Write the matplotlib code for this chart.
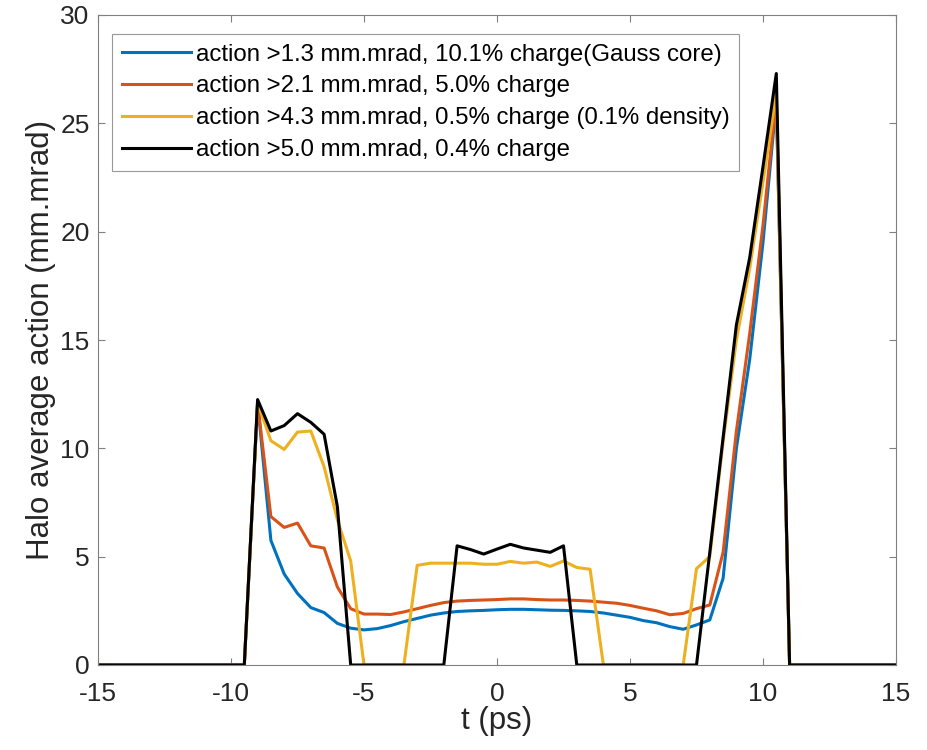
import matplotlib
matplotlib.use("Agg")
import matplotlib.pyplot as plt

plt.rcParams['font.family'] = ['Liberation Sans', 'DejaVu Sans']
plt.rcParams['axes.unicode_minus'] = False

labels = [
    "action >1.3 mm.mrad, 10.1% charge(Gauss core)",
    "action >2.1 mm.mrad, 5.0% charge",
    "action >4.3 mm.mrad, 0.5% charge (0.1% density)",
    "action >5.0 mm.mrad, 0.4% charge",
]
colors = ["#0072BD", "#D95319", "#EDB120", "#000000"]

# blue & red: sampled every 0.5 ps from -9 to 10.5, zero outside
t_blue = [-15, -9.5, -9, -8.5, -8, -7.5, -7, -6.5, -6, -5.5, -5, -4.5, -4, -3.5, -3, -2.5,
          -2, -1.5, -1, -0.5, 0, 0.5, 1, 1.5, 2, 2.5, 3, 3.5, 4, 4.5, 5, 5.5, 6, 6.5, 7,
          7.5, 8, 8.5, 9, 9.5, 10, 10.5, 11, 15]
v_blue = [0, 0, 12.1, 5.75, 4.2, 3.3, 2.65, 2.42, 1.92, 1.7, 1.62, 1.68, 1.82, 2.0, 2.15, 2.3,
          2.4, 2.47, 2.5, 2.52, 2.55, 2.57, 2.57, 2.55, 2.53, 2.52, 2.5, 2.47, 2.4, 2.3, 2.2,
          2.05, 1.95, 1.77, 1.65, 1.85, 2.08, 4.0, 10.0, 14.1, 19.5, 26.0, 0, 0]

t_red = t_blue
v_red = [0, 0, 12.1, 6.85, 6.35, 6.55, 5.5, 5.4, 3.6, 2.6, 2.35, 2.35, 2.33, 2.45, 2.6, 2.75,
         2.88, 2.95, 2.98, 3.0, 3.02, 3.05, 3.05, 3.02, 3.0, 3.0, 2.98, 2.95, 2.9, 2.85, 2.75,
         2.62, 2.5, 2.32, 2.38, 2.6, 2.77, 5.2, 10.8, 15.3, 20.3, 26.2, 0, 0]

t_yellow = [-15, -9.5, -9, -8.5, -8, -7.5, -7, -6.5, -6, -5.5, -5, -3.5, -3, -2.5, -2, -1.5,
            -1, -0.5, 0, 0.5, 1, 1.5, 2, 2.5, 3, 3.5, 4, 7, 7.5, 8, 8.5, 9, 9.5, 10, 10.5, 11, 15]
v_yellow = [0, 0, 12.1, 10.35, 9.95, 10.75, 10.8, 9.15, 6.7, 4.8, 0, 0, 4.6, 4.7, 4.7, 4.7,
            4.7, 4.65, 4.65, 4.78, 4.7, 4.75, 4.55, 4.8, 4.5, 4.42, 0, 0, 4.45, 5.0, 10.3,
            15.0, 18.3, 22.3, 26.4, 0, 0]

t_black = [-15, -9.5, -9, -8.5, -8, -7.5, -7, -6.5, -6, -5.5, -2, -1.5, -1, -0.5, 0, 0.5, 1,
           1.5, 2, 2.5, 3, 7.5, 8, 8.5, 9, 9.5, 10, 10.5, 11, 15]
v_black = [0, 0, 12.25, 10.8, 11.05, 11.6, 11.2, 10.65, 7.3, 0, 0, 5.5, 5.33, 5.12, 5.35, 5.57,
           5.4, 5.3, 5.2, 5.5, 0, 0, 5.2, 10.5, 15.7, 18.8, 23.0, 27.3, 0, 0]

xticks = [-15, -10, -5, 0, 5, 10, 15]
yticks = [0, 5, 10, 15, 20, 25, 30]

fig = plt.figure(figsize=(9.27, 7.5), dpi=100)
ax = fig.add_axes([98/927, 85/750, 798/927, 650/750])

series = [(t_blue, v_blue), (t_red, v_red), (t_yellow, v_yellow), (t_black, v_black)]
for (t, v), c, lab in zip(series, colors, labels):
    ax.plot(t, v, color=c, lw=2.2, label=lab)

ax.set_xlim(-15, 15)
ax.set_ylim(0, 30)
ax.set_xticks(xticks)
ax.set_yticks(yticks)
ax.tick_params(direction='in', length=5, width=0.8, labelsize=19, labelcolor='#262626',
               top=True, right=True, color='#808080')
ax.tick_params(axis='x', pad=12)
ax.tick_params(axis='y', pad=6)
for s in ax.spines.values():
    s.set_color('#808080')
    s.set_linewidth(0.8)

ax.set_xlabel("t (ps)", fontsize=22.5, color='#262626', labelpad=0)
ax.set_ylabel("Halo average action (mm.mrad)", fontsize=22.5, color='#262626', labelpad=3)

leg = ax.legend(loc='upper left', bbox_to_anchor=(14/798, 631/650), fontsize=17.3,
                frameon=True, fancybox=False, edgecolor='#808080', handlelength=2.9,
                handletextpad=0.2, labelspacing=0.41, borderpad=0.4, borderaxespad=0)
leg.get_frame().set_linewidth(0.8)
for h in leg.get_lines():
    h.set_linewidth(2.2)

fig.savefig("out.png", dpi=100)
